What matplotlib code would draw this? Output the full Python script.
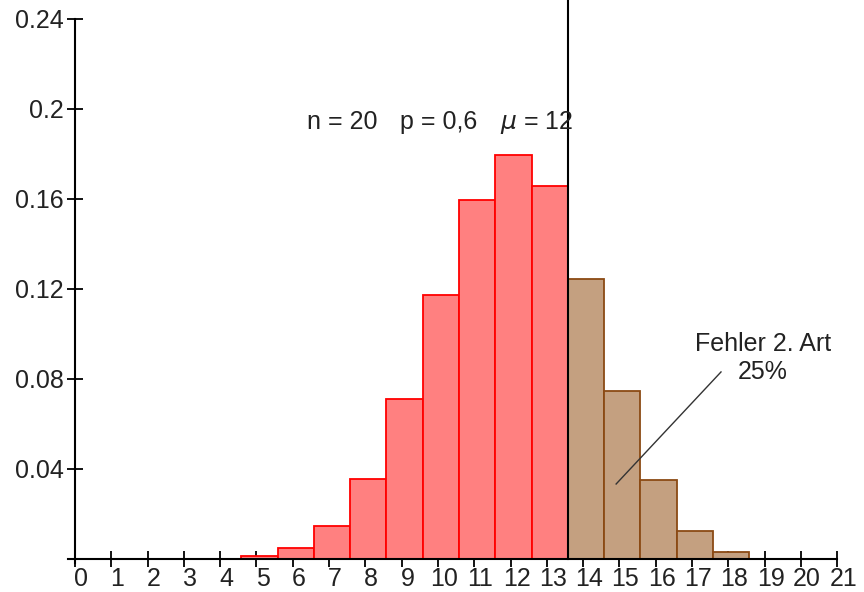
import matplotlib
matplotlib.use("Agg")
import matplotlib.pyplot as plt
import matplotlib.transforms as mtransforms

plt.rcParams['font.family'] = ['Liberation Sans', 'DejaVu Sans']

# Data
k_accept = [5, 6, 7, 8, 9, 10, 11, 12, 13]
p_accept = [0.0013, 0.0049, 0.0146, 0.0355, 0.0710, 0.1171, 0.1597, 0.1797, 0.1659]
k_error = [14, 15, 16, 17, 18]
p_error = [0.1244, 0.0746, 0.0350, 0.0123, 0.0031]
x_ticks = list(range(0, 22))
y_ticks = [0.04, 0.08, 0.12, 0.16, 0.2, 0.24]
y_tick_labels = ['0.04', '0.08', '0.12', '0.16', '0.2', '0.24']
boundary = 13.5
info_parts = ["n = 20", "p = 0,6", "$\\mu$ = 12"]
error_lines = ["Fehler 2. Art", "25%"]

fig = plt.figure(figsize=(8.64, 5.92), dpi=100)
ax = fig.add_axes([0, 0, 1, 1])
ax.set_xlim(-2.067, 21.74)
ax.set_ylim(-0.0147, 0.2484)

shift = 0.08
ax.bar([k + shift for k in k_accept], p_accept, width=1.0, color='#FF8080',
       edgecolor='#FF0000', linewidth=1.3, zorder=2)
ax.bar([k + shift for k in k_error], p_error, width=1.0, color='#C4A080',
       edgecolor='#8B4A14', linewidth=1.3, zorder=2)

ax.plot([boundary + shift, boundary + shift], [0, 0.2484], color='black',
        linewidth=1.5, zorder=3)

for s in ['top', 'right']:
    ax.spines[s].set_visible(False)
ax.spines['left'].set_position(('data', 0))
ax.spines['bottom'].set_position(('data', 0))
ax.spines['left'].set_bounds(-0.002, 0.24)
ax.spines['bottom'].set_bounds(-0.2, 21)
for s in ['left', 'bottom']:
    ax.spines[s].set_linewidth(1.5)
    ax.spines[s].set_zorder(4)

ax.set_xticks(x_ticks)
ax.set_xticklabels([str(t) for t in x_ticks])
ax.set_yticks(y_ticks)
ax.set_yticklabels(y_tick_labels)
ax.tick_params(axis='both', direction='inout', length=12, width=1.3,
               labelsize=18, colors='black', labelcolor='#222222')
ax.tick_params(axis='x', pad=0)
ax.tick_params(axis='y', pad=2)
offset = mtransforms.ScaledTranslation(6 / 100, 0, fig.dpi_scale_trans)
for lab in ax.get_xticklabels():
    lab.set_transform(lab.get_transform() + offset)

for xpos, part in zip([6.39, 8.95, 11.70], info_parts):
    ax.text(xpos, 0.194, part, fontsize=18, ha='left', va='center', color='#222222')
ax.text(18.96, 0.0955, error_lines[0], fontsize=18, ha='center', va='center', color='#222222')
ax.text(18.96, 0.0830, error_lines[1], fontsize=18, ha='center', va='center', color='#222222')
ax.plot([17.8, 14.91], [0.0831, 0.0333], color='#333333', linewidth=1.0, zorder=5)

fig.savefig('out.png', dpi=100)
